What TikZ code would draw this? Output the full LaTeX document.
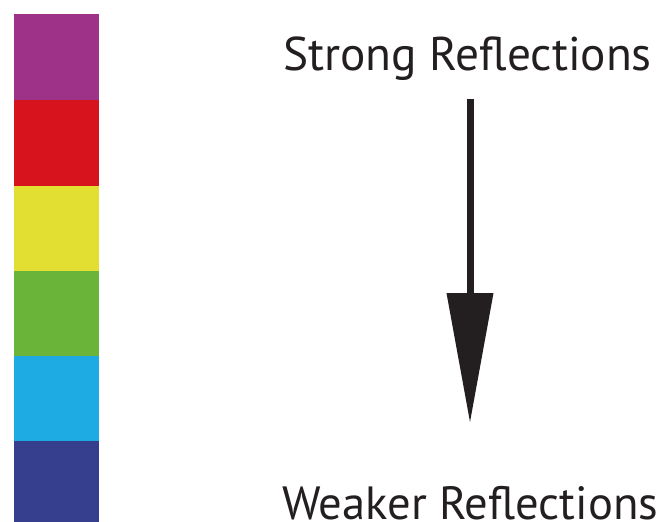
\documentclass[tikz,border=0pt]{standalone}
\usepackage{fontspec}
\setmainfont{PT Sans}
\usetikzlibrary{arrows.meta}
\definecolor{bandpurple}{RGB}{158,50,136}
\definecolor{bandred}{RGB}{215,20,30}
\definecolor{bandyellow}{RGB}{226,222,50}
\definecolor{bandgreen}{RGB}{106,180,58}
\definecolor{bandcyan}{RGB}{30,170,226}
\definecolor{bandblue}{RGB}{54,62,142}
\definecolor{textgray}{RGB}{35,31,32}
\tikzset{label text/.style={anchor=base west, inner sep=0pt, text=textgray, font=\fontsize{47.3}{50}\selectfont}}
\begin{document}
\begin{tikzpicture}[x=1pt, y=-1pt]
    \useasboundingbox (0,0) rectangle (664,522);
    \fill[bandpurple] (14,14) rectangle (99,100);
    \fill[bandred] (14,100) rectangle (99,186);
    \fill[bandyellow] (14,186) rectangle (99,271);
    \fill[bandgreen] (14,271) rectangle (99,356);
    \fill[bandcyan] (14,356) rectangle (99,441);
    \fill[bandblue] (14,441) rectangle (99,522);
    \node[label text] (strong) at (283,70) {Strong Reflections};
    \node[label text, font=\fontsize{46.6}{50}\selectfont] (weaker) at (282,519) {Weaker Reflections};
    \coordinate (shafttop) at (470,99);
    \coordinate (tip) at (470,423);
    \draw[textgray, line width=7pt, -{Triangle[length=130pt, width=45pt]}] (shafttop) -- (tip);
\end{tikzpicture}
\end{document}
